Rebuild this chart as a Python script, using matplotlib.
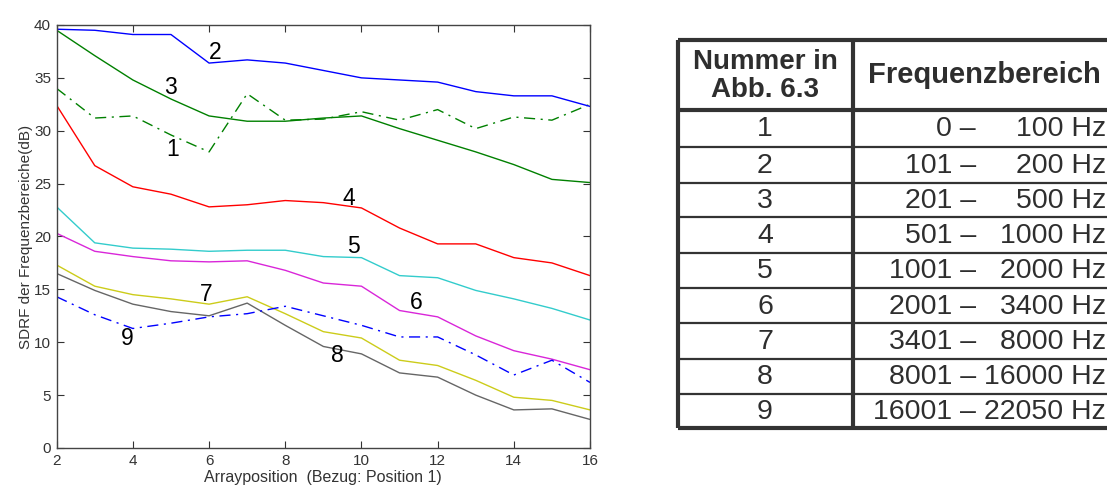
import matplotlib
matplotlib.use("Agg")
import matplotlib.pyplot as plt
from matplotlib.lines import Line2D

# Array positions (reference: position 1)
positions = list(range(2, 17))

# SDRF per frequency band (dB)
band1 = [34.0, 31.2, 31.4, 29.6, 28.0, 33.5, 31.0, 31.1, 31.8, 31.0, 32.0, 30.2, 31.3, 31.0, 32.5]
band2 = [39.6, 39.5, 39.1, 39.1, 36.4, 36.7, 36.4, 35.7, 35.0, 34.8, 34.6, 33.7, 33.3, 33.3, 32.3]
band3 = [39.5, 37.1, 34.8, 33.0, 31.4, 30.9, 30.9, 31.2, 31.4, 30.2, 29.1, 28.0, 26.8, 25.4, 25.1]
band4 = [32.4, 26.7, 24.7, 24.0, 22.8, 23.0, 23.4, 23.2, 22.7, 20.8, 19.3, 19.3, 18.0, 17.5, 16.3]
band5 = [22.8, 19.4, 18.9, 18.8, 18.6, 18.7, 18.7, 18.1, 18.0, 16.3, 16.1, 14.9, 14.1, 13.2, 12.1]
band6 = [20.3, 18.6, 18.1, 17.7, 17.6, 17.7, 16.8, 15.6, 15.3, 13.0, 12.4, 10.6, 9.2, 8.4, 7.4]
band7 = [17.3, 15.3, 14.5, 14.1, 13.6, 14.3, 12.7, 11.0, 10.4, 8.3, 7.8, 6.4, 4.8, 4.5, 3.6]
band8 = [16.5, 14.9, 13.6, 12.9, 12.5, 13.7, 11.6, 9.6, 8.9, 7.1, 6.7, 5.0, 3.6, 3.7, 2.7]
band9 = [14.3, 12.6, 11.3, 11.8, 12.4, 12.7, 13.4, 12.5, 11.6, 10.5, 10.5, 8.8, 6.9, 8.3, 6.2]

band_numbers = ["1", "2", "3", "4", "5", "6", "7", "8", "9"]
range_low = ["0 –", "101 –", "201 –", "501 –", "1001 –", "2001 –", "3401 –", "8001 –", "16001 –"]
range_high = ["100 Hz", "200 Hz", "500 Hz", "1000 Hz", "2000 Hz", "3400 Hz", "8000 Hz", "16000 Hz", "22050 Hz"]

x_ticks = [2, 4, 6, 8, 10, 12, 14, 16]
y_ticks = [0, 5, 10, 15, 20, 25, 30, 35, 40]

fig = plt.figure(figsize=(11.07, 4.91), dpi=100)
ax = fig.add_axes([0.0512, 0.0876, 0.4818, 0.8615])

series = [
    (band1, (0.0, 0.5, 0.0), "-."),
    (band2, (0.0, 0.0, 1.0), "-"),
    (band3, (0.0, 0.5, 0.0), "-"),
    (band4, (1.0, 0.0, 0.0), "-"),
    (band5, (0.2, 0.8, 0.8), "-"),
    (band6, (0.85, 0.15, 0.85), "-"),
    (band7, (0.8, 0.8, 0.1), "-"),
    (band8, (0.4, 0.4, 0.4), "-"),
    (band9, (0.0, 0.0, 1.0), "-."),
]
for vals, col, ls in series:
    if ls == "-.":
        ax.plot(positions, vals, color=col, lw=1.0, linestyle=(0, (8, 4, 1.5, 4)))
    else:
        ax.plot(positions, vals, color=col, lw=1.0, linestyle=ls)

# curve numbers
curve_labels = [
    ("1", 5.05, 28.2), ("2", 6.15, 37.4), ("3", 4.99, 34.1),
    ("4", 9.67, 23.6), ("5", 9.78, 19.1), ("6", 11.43, 13.8),
    ("7", 5.92, 14.5), ("8", 9.36, 8.7), ("9", 3.85, 10.4),
]
for txt, xv, yv in curve_labels:
    ax.text(xv, yv, txt, fontsize=16.5, ha="center", va="center", color="black",
            family="Liberation Sans")

ax.set_xlim(2, 16)
ax.set_ylim(0, 40)
ax.set_xticks(x_ticks)
ax.set_yticks(y_ticks)
ax.tick_params(direction="in", top=True, right=True, length=5, width=0.8,
               labelsize=11, colors="#333333", pad=4)
for lab in ax.get_xticklabels() + ax.get_yticklabels():
    lab.set_family("Liberation Sans")
for sp in ax.spines.values():
    sp.set_color("#444444")
    sp.set_linewidth(1.0)
ax.set_xlabel("Arrayposition  (Bezug: Position 1)", fontsize=11.5, color="#333333",
              family="Liberation Sans", labelpad=2)
ax.set_ylabel("SDRF der Frequenzbereiche(dB)", fontsize=11, color="#333333",
              family="Liberation Sans", labelpad=1)

# table drawn in pixel coordinates of the figure
W, H = 1107.0, 491.0
def fx(px):
    return px / W
def fy(py):
    return 1.0 - py / H

line_col = "#333333"
txt_col = "#2e2e2e"
left, right = 678.0, 1120.0
top, bottom = 39.5, 428.0
col_div = 853.0
header_bottom = 109.5
row_lines = [146.7, 182.7, 217.3, 252.7, 287.7, 323.3, 359.0, 394.0]

def hline(py, lw):
    fig.add_artist(Line2D([fx(left), fx(right)], [fy(py), fy(py)], color=line_col,
                          lw=lw, transform=fig.transFigure, solid_capstyle="butt"))

def vline(px, lw):
    fig.add_artist(Line2D([fx(px), fx(px)], [fy(top), fy(bottom)], color=line_col,
                          lw=lw, transform=fig.transFigure, solid_capstyle="butt"))

hline(top, 3.0)
hline(bottom, 3.0)
hline(header_bottom, 3.0)
for r in row_lines:
    hline(r, 1.6)
vline(left, 3.0)
vline(col_div, 3.0)

fig.text(fx(765), fy(76), "Nummer in\nAbb. 6.3", fontsize=20, fontweight="bold",
         ha="center", va="center", color=txt_col, family="Liberation Sans",
         linespacing=1.12)
fig.text(fx(868), fy(75), "Frequenzbereich", fontsize=21, fontweight="bold",
         ha="left", va="center", color=txt_col, family="Liberation Sans")

row_edges = [header_bottom] + row_lines + [bottom]
for i in range(len(band_numbers)):
    yc = (row_edges[i] + row_edges[i + 1]) / 2.0 + 1
    fig.text(fx(765), fy(yc), band_numbers[i], fontsize=20.5, ha="center", va="center",
             color=txt_col, family="Liberation Sans")
    fig.text(fx(976), fy(yc), range_low[i], fontsize=20.5, ha="right", va="center",
             color=txt_col, family="Liberation Sans")
    fig.text(fx(1106), fy(yc), range_high[i], fontsize=20.5, ha="right", va="center",
             color=txt_col, family="Liberation Sans")

fig.savefig("out.png", dpi=100, facecolor="white")
